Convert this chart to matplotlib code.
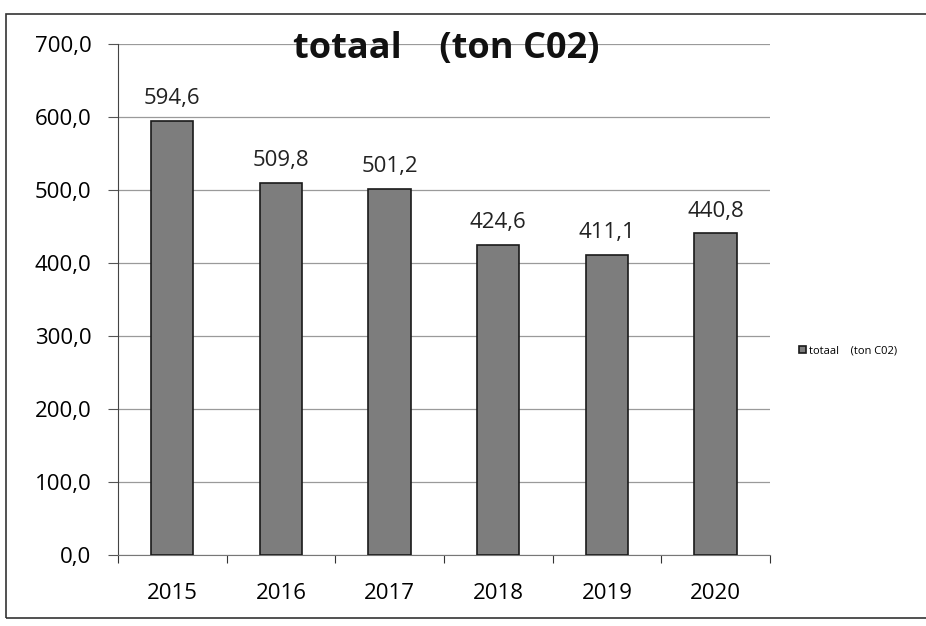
import matplotlib.pyplot as plt
import matplotlib.patches as mpatches
import numpy as np

years = ['2015', '2016', '2017', '2018', '2019', '2020']
totaal = [594.6, 509.8, 501.2, 424.6, 411.1, 440.8]
y_ticks = [0, 100, 200, 300, 400, 500, 600, 700]

plt.rcParams['font.family'] = ['Open Sans', 'DejaVu Sans']

fig = plt.figure(figsize=(9.26, 6.26), dpi=100)
ax = fig.add_axes([0.1274, 0.1134, 0.704, 0.8163])

x = np.arange(len(years))
bars = ax.bar(x, totaal, width=0.39, color='#7d7d7d', edgecolor='#1a1a1a',
              linewidth=1.2, label='totaal    (ton C02)', zorder=3)

# value labels
for xi, v in zip(x, totaal):
    ax.text(xi, v + 16, f"{v:.1f}".replace('.', ','), ha='center', va='bottom',
            fontsize=16, color='#222222')

ax.set_xlim(-0.5, len(years) - 0.5)
ax.set_ylim(0, 700)
ax.set_yticks(y_ticks)
ax.set_yticklabels([f"{t:.1f}".replace('.', ',') for t in y_ticks], fontsize=16)
ax.yaxis.grid(True, color='#9a9a9a', linewidth=0.9, zorder=0)

# ticks between categories
ax.set_xticks(np.arange(-0.5, len(years), 1.0))
ax.set_xticklabels([])
ax.set_xticks(x, minor=True)
ax.set_xticklabels(years, minor=True, fontsize=16)
ax.tick_params(axis='x', which='minor', length=0, pad=20)
ax.tick_params(axis='x', which='major', length=6, color='#333333')
ax.tick_params(axis='y', length=7, color='#555555', pad=12)

for s in ['top', 'right']:
    ax.spines[s].set_visible(False)
ax.spines['left'].set_color('#444444')
ax.spines['bottom'].set_color('#777777')

fig.text(0.482, 0.922, 'totaal    (ton C02)', ha='center', va='center',
         fontsize=26, fontweight='bold', color='#111111')

leg = ax.legend(loc='center left', bbox_to_anchor=(1.03, 0.40), frameon=False,
                fontsize=8, handlelength=0.6, handleheight=0.6, handletextpad=0.3)

# outer chart border
border = mpatches.Rectangle((0.006, 0.013), 1.1, 0.965, transform=fig.transFigure,
                            fill=False, edgecolor='#333333', linewidth=1.2)
fig.patches.append(border)

fig.savefig('out.png', dpi=100)
